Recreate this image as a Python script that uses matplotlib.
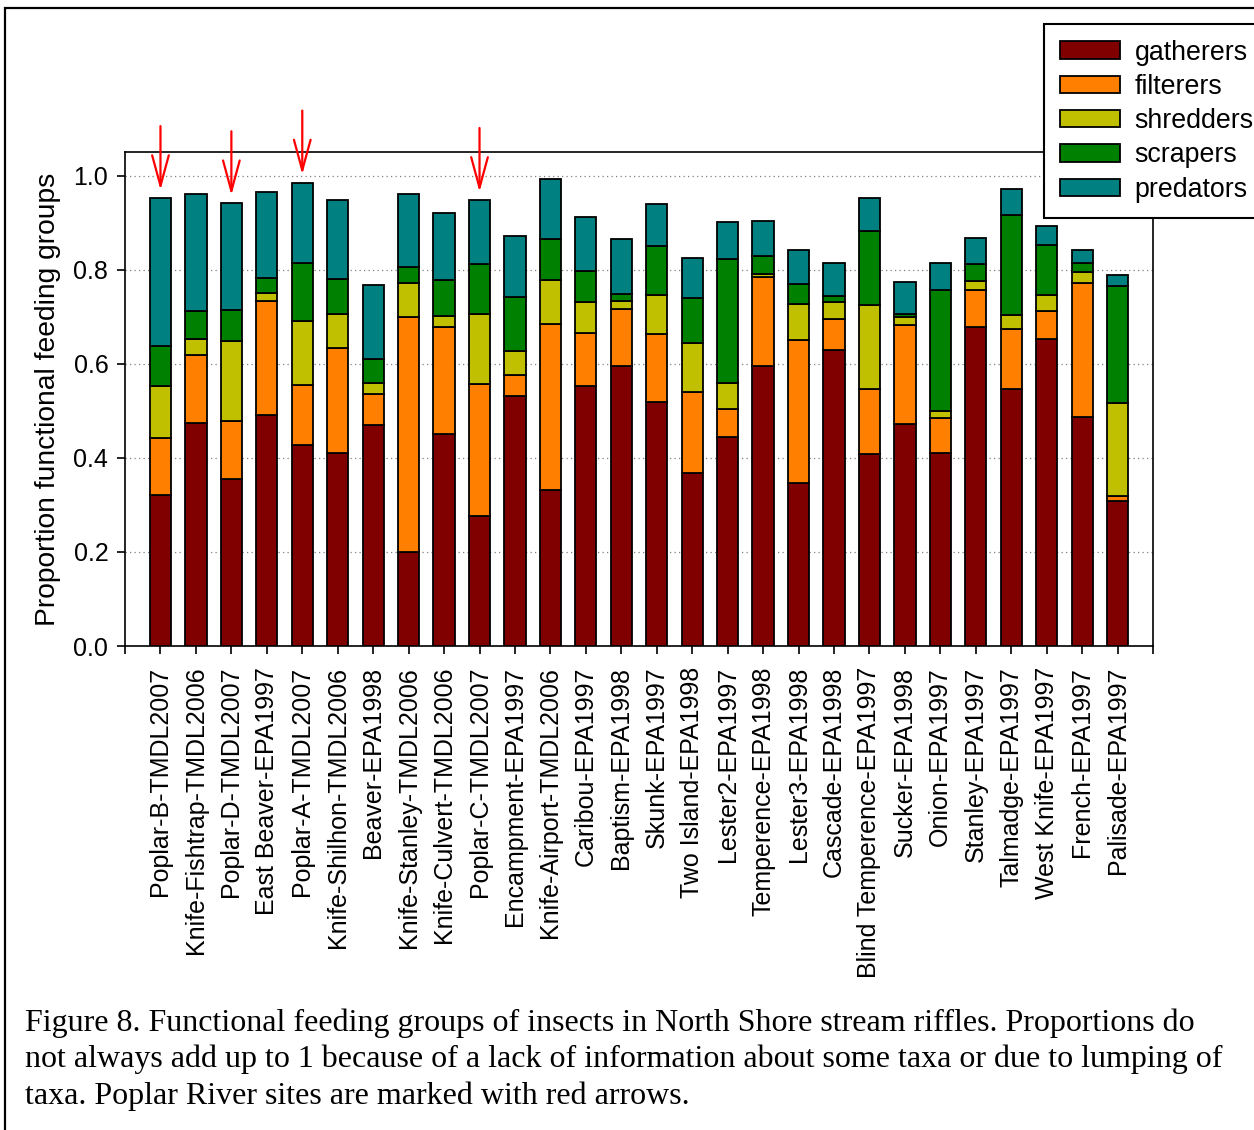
import matplotlib.pyplot as plt
import numpy as np

# Sites (in plotted order)
sites = ["Poplar-B-TMDL2007", "Knife-Fishtrap-TMDL2006", "Poplar-D-TMDL2007",
         "East Beaver-EPA1997", "Poplar-A-TMDL2007", "Knife-Shilhon-TMDL2006",
         "Beaver-EPA1998", "Knife-Stanley-TMDL2006", "Knife-Culvert-TMDL2006",
         "Poplar-C-TMDL2007", "Encampment-EPA1997", "Knife-Airport-TMDL2006",
         "Caribou-EPA1997", "Baptism-EPA1998", "Skunk-EPA1997", "Two Island-EPA1998",
         "Lester2-EPA1997", "Temperence-EPA1998", "Lester3-EPA1998", "Cascade-EPA1998",
         "Blind Temperence-EPA1997", "Sucker-EPA1998", "Onion-EPA1997",
         "Stanley-EPA1997", "Talmadge-EPA1997", "West Knife-EPA1997",
         "French-EPA1997", "Palisade-EPA1997"]

# Proportions of each functional feeding group
gatherers = [0.320, 0.474, 0.354, 0.492, 0.428, 0.411, 0.470, 0.200, 0.450, 0.277,
             0.531, 0.331, 0.552, 0.596, 0.518, 0.368, 0.445, 0.595, 0.346, 0.630,
             0.408, 0.471, 0.411, 0.678, 0.547, 0.652, 0.487, 0.308]
filterers = [0.122, 0.144, 0.125, 0.241, 0.127, 0.222, 0.065, 0.500, 0.228, 0.280,
             0.046, 0.353, 0.114, 0.121, 0.146, 0.172, 0.059, 0.190, 0.305, 0.066,
             0.138, 0.212, 0.073, 0.079, 0.127, 0.060, 0.285, 0.011]
shredders = [0.110, 0.034, 0.169, 0.018, 0.135, 0.072, 0.024, 0.071, 0.023, 0.149,
             0.050, 0.094, 0.066, 0.017, 0.082, 0.103, 0.056, 0.005, 0.075, 0.036,
             0.178, 0.016, 0.015, 0.019, 0.029, 0.035, 0.022, 0.197]
scrapers = [0.086, 0.060, 0.066, 0.032, 0.123, 0.075, 0.052, 0.034, 0.077, 0.105,
            0.114, 0.088, 0.065, 0.015, 0.105, 0.096, 0.262, 0.038, 0.043, 0.011,
            0.158, 0.006, 0.258, 0.035, 0.214, 0.105, 0.019, 0.250]
predators = [0.314, 0.248, 0.227, 0.183, 0.172, 0.169, 0.157, 0.155, 0.143, 0.137,
             0.130, 0.127, 0.115, 0.116, 0.089, 0.086, 0.079, 0.076, 0.073, 0.072,
             0.071, 0.068, 0.057, 0.057, 0.055, 0.040, 0.028, 0.022]

groups = ["gatherers", "filterers", "shredders", "scrapers", "predators"]
colors = ["#800000", "#FF8000", "#C0C000", "#008000", "#008080"]

# Poplar River sites get a red arrow
poplar_sites = ["Poplar-B-TMDL2007", "Poplar-D-TMDL2007", "Poplar-A-TMDL2007",
                "Poplar-C-TMDL2007"]
arrow_gap = 0.017
arrow_len = 0.136

caption = ("Figure 8. Functional feeding groups of insects in North Shore stream riffles. Proportions do\n"
           "not always add up to 1 because of a lack of information about some taxa or due to lumping of\n"
           "taxa. Poplar River sites are marked with red arrows.")

plt.rcParams['font.family'] = ['Liberation Sans', 'DejaVu Sans']

fig = plt.figure(figsize=(12.54, 11.30), dpi=100)
ax = fig.add_axes([0.0997, 0.4283, 0.8198, 0.4372])

x = np.arange(len(sites))
bottom = np.zeros(len(sites))
for name, vals, col in zip(groups, [gatherers, filterers, shredders, scrapers, predators], colors):
    ax.bar(x, vals, width=0.6, bottom=bottom, color=col, edgecolor="black",
           linewidth=1.3, label=name, zorder=3)
    bottom += np.array(vals)

# red arrows above Poplar sites
for s in poplar_sites:
    i = sites.index(s)
    tip = bottom[i] + arrow_gap
    ax.annotate("", xy=(i, tip), xytext=(i, tip + arrow_len), annotation_clip=False,
                arrowprops=dict(arrowstyle="->,head_length=2.2,head_width=0.6",
                                color="red", lw=1.6, shrinkA=0, shrinkB=0))

ax.set_xlim(-1, 28)
ax.set_ylim(0, 1.05)
ax.set_yticks([0.0, 0.2, 0.4, 0.6, 0.8, 1.0])
ax.set_yticklabels(["0.0", "0.2", "0.4", "0.6", "0.8", "1.0"])
ax.set_xticks(x)
ax.set_xticklabels(sites, rotation=90)
ax.set_xticks([-1, 28], minor=True)
ax.tick_params(axis="both", which="both", direction="out", length=6, width=1.2,
               labelsize=18)
ax.tick_params(axis="y", pad=6)
ax.tick_params(axis="x", pad=9)
ax.grid(axis="y", linestyle=(0, (1, 2.6)), color="#808080", linewidth=0.9, zorder=0)
for sp in ax.spines.values():
    sp.set_linewidth(1.2)
ax.set_ylabel("Proportion functional feeding groups", fontsize=20.3)
ax.yaxis.set_label_coords(-0.062, 0.5)

leg = fig.legend(loc="upper left", bbox_to_anchor=(0.8325, 0.9788), fontsize=19.3,
                 frameon=True, fancybox=False, framealpha=1, edgecolor="black",
                 borderaxespad=0, borderpad=0.58, handlelength=2.24, handleheight=0.63,
                 handletextpad=0.56, labelspacing=0.31)
leg.get_frame().set_linewidth(1.5)

# outer border of the figure
fig.patches.append(plt.Rectangle((5 / 1254, -0.01), 1.1, 1 - 8 / 1130 + 0.01,
                                 transform=fig.transFigure, fill=False,
                                 edgecolor="black", linewidth=1.6))

fig.text(25 / 1254, 1 - 1008 / 1130, caption, fontsize=23, va="top", ha="left",
         family="Liberation Serif", linespacing=1.33)

fig.savefig("out.png", dpi=100)
